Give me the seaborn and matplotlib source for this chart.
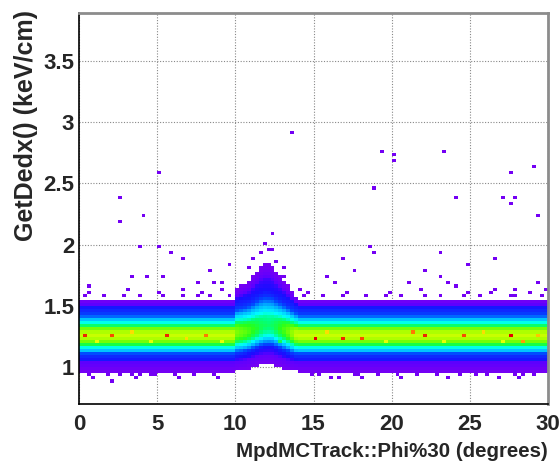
import numpy as np
import pandas as pd
import matplotlib
matplotlib.use("Agg")
import matplotlib.pyplot as plt
from matplotlib.colors import LinearSegmentedColormap
from matplotlib.ticker import MultipleLocator
import seaborn as sns

# ---------------- data ----------------
phi_bin = 0.25          # degrees
dedx_bin = 0.025        # keV/cm
phi_range = (0.0, 30.0)
dedx_range = (0.7, 3.89)

# counts per dE/dx row (lower bin edge) in the flat phi region
profile_dedx = [0.95, 0.975, 1.0, 1.025, 1.05, 1.075, 1.1, 1.125, 1.15, 1.175,
                1.2, 1.225, 1.25, 1.275, 1.3, 1.325, 1.35, 1.375, 1.4, 1.425,
                1.45, 1.475, 1.5, 1.525, 1.55]
profile_counts = [1, 2, 3, 4, 7, 8, 10, 15, 19, 24,
                  28, 30, 31, 30, 28, 23, 19, 15, 11, 9,
                  8, 7, 4, 2, 1]
profile_center = 1.26

# bump region near phi ~ 12 deg: per-column (start phi) band lower edge, centre, upper edge, amplitude
bump_phi = [9.75, 10.0, 10.25, 10.5, 10.75, 11.0, 11.25, 11.5, 11.75, 12.0,
            12.25, 12.5, 12.75, 13.0, 13.25, 13.5, 13.75]
bump_lo = [0.95, 0.95, 0.955, 0.96, 0.97, 0.98, 0.99, 1.0, 1.0, 1.0,
           1.0, 0.99, 0.98, 0.97, 0.96, 0.955, 0.95]
bump_center = [1.26, 1.28, 1.28, 1.285, 1.29, 1.30, 1.31, 1.32, 1.33, 1.33,
               1.33, 1.32, 1.31, 1.30, 1.29, 1.275, 1.265]
bump_hi = [1.575, 1.66, 1.68, 1.70, 1.72, 1.76, 1.80, 1.84, 1.86, 1.86,
           1.84, 1.80, 1.76, 1.72, 1.68, 1.64, 1.60]
bump_amp = [1.0, 0.92, 0.9, 0.88, 0.86, 0.83, 0.8, 0.77, 0.75, 0.74,
            0.75, 0.78, 0.82, 0.86, 0.9, 0.95, 1.0]

# hot (yellow/orange/red) cells in the core
hot_phi = [0.3, 1.1, 2.0, 3.4, 4.6, 5.6, 6.9, 8.2, 9.1, 12.9, 15.0, 15.8, 16.9, 18.2,
           19.6, 21.4, 22.1, 23.3, 24.7, 25.9, 27.0, 27.7, 28.3, 29.4]
hot_dedx = [1.26, 1.21, 1.25, 1.28, 1.22, 1.26, 1.24, 1.27, 1.21, 1.22, 1.24, 1.28, 1.23, 1.24,
            1.21, 1.28, 1.26, 1.22, 1.26, 1.28, 1.21, 1.25, 1.22, 1.27]
hot_extra = [8, 4, 7, 4, 4, 8, 4, 6, 4, 7, 10, 4, 9, 8,
             4, 7, 8, 4, 7, 4, 4, 10, 8, 4]

# ragged purple fringe just outside the band
fringe_up_phi = [0.25, 0.5, 1.5, 2.75, 3.0, 3.75, 5.0, 5.25, 6.5, 7.5, 7.75, 8.25, 9.0,
                 9.5, 14.25, 14.5, 15.5, 16.75, 17.0, 18.25, 19.5, 19.75, 20.5, 21.75,
                 22.0, 23.0, 24.5, 24.75, 25.5, 26.25, 27.5, 27.75, 28.75, 29.5, 29.75]
fringe_up_dedx = [1.585, 1.61, 1.585, 1.585, 1.635, 1.585, 1.61, 1.585, 1.585, 1.585,
                  1.61, 1.585, 1.635, 1.585, 1.585, 1.61, 1.585, 1.585, 1.61, 1.585,
                  1.585, 1.61, 1.585, 1.635, 1.585, 1.585, 1.585, 1.61, 1.585, 1.61,
                  1.585, 1.585, 1.61, 1.585, 1.635]
fringe_lo_phi = [0.5, 0.75, 1.75, 2.5, 3.25, 3.5, 4.75, 6.0, 6.25, 7.25, 8.5, 8.75,
                 14.75, 15.25, 16.0, 17.5, 17.75, 19.0, 20.25, 20.5, 21.5, 22.75,
                 23.5, 24.25, 25.25, 26.0, 26.75, 27.75, 28.0, 28.25, 29.0]
fringe_lo_dedx = [0.935, 0.91, 0.935, 0.935, 0.935, 0.91, 0.935, 0.935, 0.91, 0.935,
                  0.935, 0.91, 0.935, 0.935, 0.91, 0.935, 0.935, 0.935, 0.935, 0.91,
                  0.935, 0.935, 0.91, 0.935, 0.935, 0.935, 0.91, 0.935, 0.91, 0.935,
                  0.935]

# isolated single entries outside the main band
out_phi = [2.5, 2.5, 4.1, 5.0, 12.4, 13.5, 19.4, 20.2, 20.0, 18.8, 23.3, 24.2, 27.5,
           29.0, 27.2, 27.6, 27.9, 29.4,
           3.9, 5.0, 5.8, 6.65, 8.4, 9.5, 3.45, 4.3, 5.3, 2.0, 4.5, 3.9, 0.6, 3.05,
           6.6, 7.5, 8.6, 9.0,
           18.6, 18.9, 23.0, 16.8, 26.6, 24.9, 17.6, 22.2, 23.0, 15.9, 13.2, 21.0,
           23.5, 24.0, 29.3, 16.4, 27.9, 26.7, 14.0, 16.5, 28.2, 27.9, 18.1,
           11.9, 12.1, 11.6, 12.3, 11.2, 12.7, 10.9, 13.1]
out_dedx = [2.375, 2.18, 2.23, 2.58, 2.08, 2.92, 2.77, 2.73, 2.68, 2.47, 2.77, 2.375, 2.58,
            2.63, 2.375, 2.33, 2.375, 2.23,
            1.98, 1.99, 1.93, 1.88, 1.78, 1.83, 1.73, 1.73, 1.73, 0.875, 0.93, 0.93, 1.67, 1.63,
            1.63, 1.69, 1.69, 1.69,
            1.99, 1.93, 1.93, 1.88, 1.88, 1.83, 1.78, 1.78, 1.73, 1.74, 1.73, 1.69,
            1.69, 1.67, 1.69, 1.69, 1.64, 1.64, 1.64, 0.92, 0.92, 0.95, 0.92,
            2.02, 1.97, 1.93, 1.95, 1.88, 1.86, 1.80, 1.82]

x_ticks = [0, 5, 10, 15, 20, 25, 30]
y_ticks = [1, 1.5, 2, 2.5, 3, 3.5]
x_label = "MpdMCTrack::Phi%30 (degrees)"
y_label = "GetDedx() (keV/cm)"

# ---------------- build histogram cells ----------------
x_edges = np.arange(phi_range[0], phi_range[1] + 1e-9, phi_bin)
y_edges = np.arange(dedx_range[0], dedx_range[1] + 1e-9, dedx_bin)
x_centers = x_edges[:-1] + phi_bin / 2
y_centers = y_edges[:-1] + dedx_bin / 2

prof_v = np.array(profile_dedx) + dedx_bin / 2
prof_c = np.array(profile_counts, dtype=float)
base_lo, base_hi = profile_dedx[0], profile_dedx[-1] + dedx_bin
c0 = profile_center

cells = {}
for i, xc in enumerate(x_centers):
    start = x_edges[i]
    lo, cb, hi, amp = base_lo, c0, base_hi, 1.0
    for k, bp in enumerate(bump_phi):
        if abs(bp - start) < 1e-6:
            lo, cb, hi, amp = bump_lo[k], bump_center[k], bump_hi[k], bump_amp[k]
    for j, yc in enumerate(y_centers):
        if yc >= cb:
            u = c0 + (yc - cb) / (hi - cb) * (base_hi - c0)
        else:
            u = c0 - (cb - yc) / (cb - lo) * (c0 - base_lo)
        c = amp * np.interp(u, prof_v, prof_c, left=0.0, right=0.0)
        if c >= 0.5:
            cells[(i, j)] = c


def add(p, v, e):
    key = (int(p / phi_bin), int((v - dedx_range[0]) / dedx_bin))
    cells[key] = cells.get(key, 0) + e


for p, v, e in zip(hot_phi, hot_dedx, hot_extra):
    add(p, v, e)
for p, v in zip(fringe_up_phi, fringe_up_dedx):
    add(p, v, 1)
for p, v in zip(fringe_lo_phi, fringe_lo_dedx):
    add(p, v, 1)
for p, v in zip(out_phi, out_dedx):
    add(p, v, 1)

df = pd.DataFrame(
    [(x_centers[i], y_centers[j], w) for (i, j), w in cells.items()],
    columns=["phi", "dedx", "w"],
)

# ROOT-like rainbow palette
cmap = LinearSegmentedColormap.from_list(
    "rootpal",
    [(0.00, (0.47, 0.00, 0.95)),
     (0.09, (0.36, 0.00, 1.00)),
     (0.15, (0.10, 0.05, 1.00)),
     (0.24, (0.00, 0.30, 1.00)),
     (0.34, (0.00, 0.70, 1.00)),
     (0.45, (0.00, 1.00, 1.00)),
     (0.55, (0.00, 1.00, 0.50)),
     (0.63, (0.15, 1.00, 0.10)),
     (0.72, (0.55, 1.00, 0.00)),
     (0.80, (0.90, 1.00, 0.00)),
     (0.86, (1.00, 0.85, 0.00)),
     (0.93, (1.00, 0.45, 0.00)),
     (1.00, (0.90, 0.00, 0.00))],
)

# ---------------- plot ----------------
sns.set_style("white")
plt.rcParams["font.family"] = ["Liberation Sans", "DejaVu Sans"]

fig = plt.figure(figsize=(5.59, 4.68), dpi=100)
ax = fig.add_axes([79 / 559, 1 - 404 / 468, (548 - 79) / 559, (404 - 13) / 468])

sns.histplot(data=df, x="phi", y="dedx", weights="w", bins=[x_edges, y_edges],
             cmap=cmap, vmin=0.5, vmax=40, ax=ax, zorder=2)

ax.set_xlim(*phi_range)
ax.set_ylim(*dedx_range)
ax.set_xticks(x_ticks)
ax.set_yticks(y_ticks)
ax.set_xticklabels([str(t) for t in x_ticks])
ax.set_yticklabels([f"{t:g}" for t in y_ticks])
ax.xaxis.set_minor_locator(MultipleLocator(1))
ax.yaxis.set_minor_locator(MultipleLocator(0.1))

ax.grid(True, which="major", linestyle=(0, (1, 1.5)), color="#888888", linewidth=0.8)
ax.set_axisbelow(True)

ax.tick_params(axis="both", which="major", direction="in", length=11, width=1,
               labelsize=16, color="black", top=False, right=False)
ax.tick_params(axis="both", which="minor", direction="in", length=6, width=1,
               color="black", top=False, right=False)
for lab in ax.get_xticklabels() + ax.get_yticklabels():
    lab.set_fontweight("bold")
ax.tick_params(axis="x", pad=7)
ax.tick_params(axis="y", pad=3.5)

for s in ["left", "bottom"]:
    ax.spines[s].set_color("black")
    ax.spines[s].set_linewidth(1.2)
for s in ["top", "right"]:
    ax.spines[s].set_color("#8c8c8c")
    ax.spines[s].set_linewidth(2.0)

ax.set_xlabel(x_label, fontsize=14.8, fontweight="bold", ha="right", x=1.0, labelpad=5)
ax.set_ylabel(y_label, fontsize=18, fontweight="bold", ha="right", y=1.008, labelpad=4)

fig.savefig("out.png", dpi=100)
